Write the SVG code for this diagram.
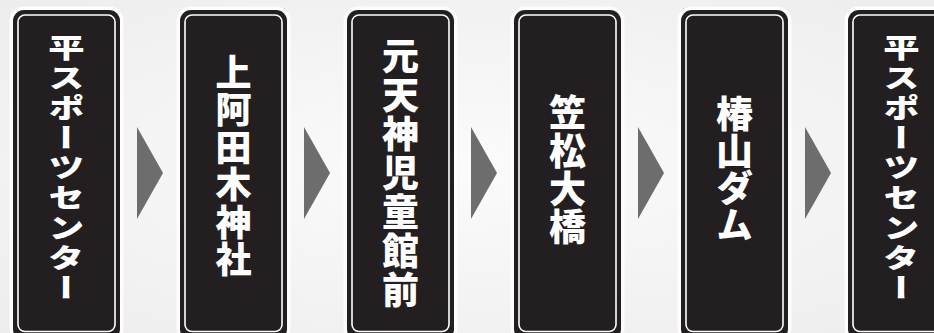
<svg xmlns="http://www.w3.org/2000/svg" width="934" height="333" viewBox="0 0 934 333">
<defs>
<radialGradient id="bg" cx="0.5" cy="0.5" r="0.7">
<stop offset="0" stop-color="#fbfbfb"/>
<stop offset="1" stop-color="#ededed"/>
</radialGradient>
<style>
.halo{fill:none;stroke:#ffffff;stroke-width:7;opacity:0.85}
.box{fill:#231f20}
.inner{fill:none;stroke:#ffffff;stroke-width:1.6}
.arr{fill:#6d6d6d}
.lbl{font-family:"Noto Sans CJK JP","Noto Sans CJK SC",sans-serif;font-weight:900;fill:#ffffff;writing-mode:vertical-rl}
.s{font-size:33px;letter-spacing:2.7px}
.l{font-size:37px}
</style>
</defs>
<rect x="0" y="0" width="934" height="333" fill="url(#bg)"/>
<g id="connectors">
<polygon class="arr" points="137,127 163,173 137,219"/>
<polygon class="arr" points="304,127 330,173 304,219"/>
<polygon class="arr" points="471,127 497,173 471,219"/>
<polygon class="arr" points="638,127 664,173 638,219"/>
<polygon class="arr" points="805,127 831,173 805,219"/>
</g>
<g id="n1">
<rect class="halo" x="13" y="10" width="107" height="330" rx="11"/>
<rect class="box" x="13" y="10" width="107" height="330" rx="11"/>
<rect class="inner" x="18" y="15" width="97" height="316.5" rx="7"/>
<text class="lbl s" transform="translate(66.5,34) scale(1.1,0.84)" x="0" y="0">平スポーツセンター</text>
</g>
<g id="n2">
<rect class="halo" x="180" y="10" width="107" height="330" rx="11"/>
<rect class="box" x="180" y="10" width="107" height="330" rx="11"/>
<rect class="inner" x="185" y="15" width="97" height="316.5" rx="7"/>
<text class="lbl" x="233.5" y="54" style="font-size:36px;letter-spacing:1.5px">上阿田木神社</text>
</g>
<g id="n3">
<rect class="halo" x="347" y="10" width="107" height="330" rx="11"/>
<rect class="box" x="347" y="10" width="107" height="330" rx="11"/>
<rect class="inner" x="352" y="15" width="97" height="316.5" rx="7"/>
<text class="lbl l" x="400.5" y="37" style="letter-spacing:2px">元天神児童館前</text>
</g>
<g id="n4">
<rect class="halo" x="514" y="10" width="107" height="330" rx="11"/>
<rect class="box" x="514" y="10" width="107" height="330" rx="11"/>
<rect class="inner" x="519" y="15" width="97" height="316.5" rx="7"/>
<text class="lbl l" x="567.5" y="94" style="letter-spacing:1px">笠松大橋</text>
</g>
<g id="n5">
<rect class="halo" x="681" y="10" width="107" height="330" rx="11"/>
<rect class="box" x="681" y="10" width="107" height="330" rx="11"/>
<rect class="inner" x="686" y="15" width="97" height="316.5" rx="7"/>
<text class="lbl l" x="734.5" y="95">椿山ダム</text>
</g>
<g id="n6">
<rect class="halo" x="848" y="10" width="107" height="330" rx="11"/>
<rect class="box" x="848" y="10" width="107" height="330" rx="11"/>
<rect class="inner" x="853" y="15" width="97" height="316.5" rx="7"/>
<text class="lbl s" transform="translate(901.5,34) scale(1.1,0.84)" x="0" y="0">平スポーツセンター</text>
</g>
</svg>
